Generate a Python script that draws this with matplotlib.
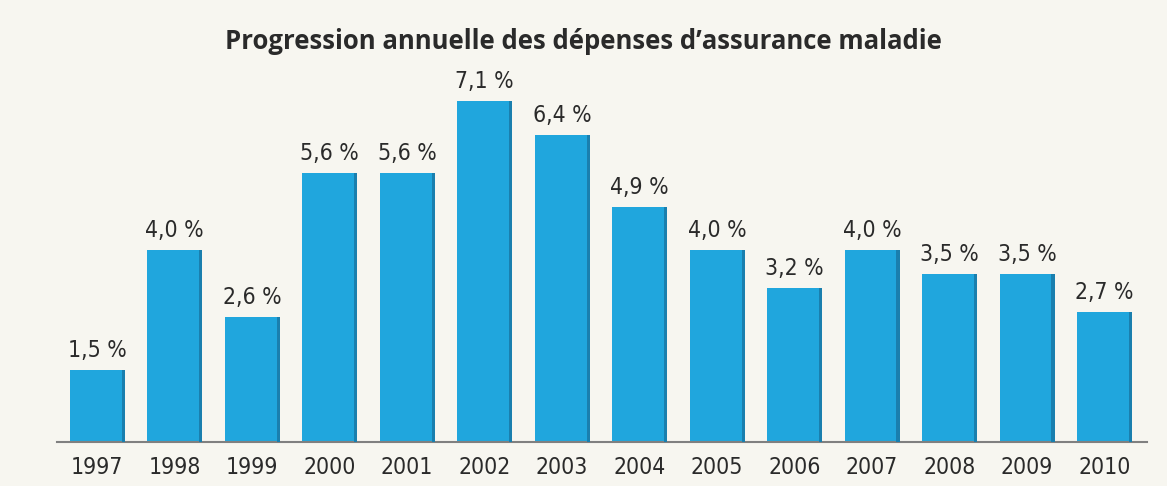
import matplotlib
matplotlib.use("Agg")
import matplotlib.pyplot as plt

years = ["1997", "1998", "1999", "2000", "2001", "2002", "2003",
         "2004", "2005", "2006", "2007", "2008", "2009", "2010"]
values = [1.5, 4.0, 2.6, 5.6, 5.6, 7.1, 6.4, 4.9, 4.0, 3.2, 4.0, 3.5, 3.5, 2.7]
title = "Progression annuelle des dépenses d\u2019assurance maladie"

bg = "#f7f6f0"
bar_color = "#20a6dd"

fig = plt.figure(figsize=(11.67, 4.86), dpi=100, facecolor=bg)
ax = fig.add_axes([0.0488, 0.0905, 0.9342, 0.786])
ax.set_facecolor(bg)

x = list(range(len(years)))
ax.bar(x, values, width=0.71, color=bar_color, edgecolor="none", zorder=2)
# darker right edge shading
ax.bar([i + 0.335 for i in x], values, width=0.04, color="#1a7fae", edgecolor="none", zorder=3)

for xi, v in zip(x, values):
    ax.annotate(f"{v:.1f}".replace(".", ",") + " %", (xi, v), xytext=(0, 6),
                textcoords="offset points", ha="center", va="bottom",
                fontsize=16.5, family="DejaVu Sans", fontstretch="condensed",
                color="#2a2a2a")

ax.set_xlim(-0.52, 13.55)
ax.set_ylim(0, 7.96)
ax.set_xticks(x)
ax.set_xticklabels(years, family="DejaVu Sans", fontstretch="condensed",
                   fontsize=16.5, color="#2a2a2a")
ax.tick_params(axis="x", length=0, pad=10)
ax.set_yticks([])
for s in ["top", "right", "left"]:
    ax.spines[s].set_visible(False)
ax.spines["bottom"].set_color("#808080")
ax.spines["bottom"].set_linewidth(1.5)

fig.text(0.5, 0.915, title, ha="center", va="center", fontsize=18.5,
         fontweight="bold", family=["Open Sans", "DejaVu Sans"], color="#2a2a2a")

fig.savefig("out.png", dpi=100, facecolor=bg)
